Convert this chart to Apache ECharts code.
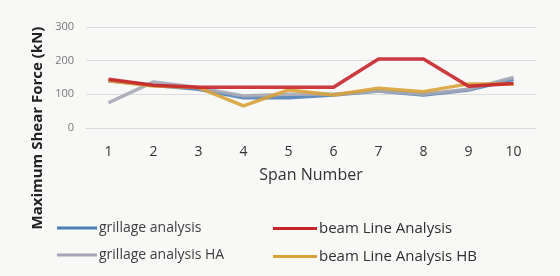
<!DOCTYPE html>
<html>
<head>
<meta charset="utf-8">
<script src="https://cdn.jsdelivr.net/npm/echarts@6/dist/echarts.min.js"></script>
<style>
  html, body { margin: 0; padding: 0; background: #f8f8f6; }
  #chart { width: 560px; height: 276px; }
</style>
</head>
<body>
<div id="chart"></div>
<script>
/* === Data === */
const spans = ['1', '2', '3', '4', '5', '6', '7', '8', '9', '10'];
const grillage = [140, 127, 115, 90, 90, 98, 110, 98, 113, 145];
const beamLine = [145, 127, 121, 121, 121, 121, 205, 205, 124, 132];
const grillageHA = [75, 137, 120, 95, 100, 100, 110, 100, 115, 150];
const beamLineHB = [140, 125, 120, 66, 113, 98, 118, 108, 131, 131];
const yTicks = { min: 0, max: 300, step: 100 };

const COLORS = {
  grillage: '#4f7fb8',
  beam: '#c8252b',
  grillageHA: '#a5a7b6',
  beamHB: '#d9a23a'
};

function lineSeries(name, data, color, z) {
  return {
    name: name,
    type: 'line',
    data: data,
    symbol: 'none',
    z: z,
    lineStyle: { color: color, width: 3.5, opacity: 0.9 },
    itemStyle: { color: color }
  };
}

/* === Chart === */
const chart = echarts.init(document.getElementById('chart'));
chart.setOption({
  backgroundColor: '#f8f8f6',
  animation: false,
  grid: { left: 86, right: 24, top: 27, bottom: 148 },
  legend: [
    {
      orient: 'vertical',
      left: 52, top: 216,
      itemWidth: 40, itemHeight: 3, itemGap: 13,
      icon: 'rect',
      textStyle: { color: '#404040', fontSize: 14, fontFamily: 'Open Sans', padding: [0, 0, 0, -3] },
      data: ['grillage analysis', 'grillage analysis HA']
    },
    {
      orient: 'vertical',
      left: 268, top: 216,
      itemWidth: 44, itemHeight: 3, itemGap: 13,
      icon: 'rect',
      textStyle: { color: '#303030', fontSize: 15, fontFamily: 'Open Sans', padding: [0, 0, 0, -3] },
      data: ['beam Line Analysis', 'beam Line Analysis HB']
    }
  ],
  xAxis: {
    type: 'category',
    data: spans,
    boundaryGap: true,
    axisLine: { show: true, lineStyle: { color: '#d9d9d9' } },
    axisTick: { show: false },
    axisLabel: { color: '#333', fontSize: 14, margin: 17, fontFamily: 'Open Sans' },
    name: 'Span Number',
    nameLocation: 'middle',
    nameGap: 39,
    nameTextStyle: { color: '#333', fontSize: 16, fontFamily: 'Open Sans' }
  },
  yAxis: {
    type: 'value',
    min: yTicks.min, max: yTicks.max, interval: yTicks.step,
    axisLine: { show: false },
    axisTick: { show: false },
    splitLine: { lineStyle: { color: '#dcdcdc', width: 1 } },
    axisLabel: { color: '#777', fontSize: 11, margin: 12, fontFamily: 'Open Sans' }
  },
  graphic: [{
    type: 'text',
    x: 38, y: 128,
    rotation: Math.PI / 2,
    style: {
      text: 'Maximum Shear Force (kN)',
      fill: '#222',
      font: 'bold 15px "Open Sans"',
      textAlign: 'center',
      textVerticalAlign: 'middle'
    }
  }],
  series: [
    lineSeries('grillage analysis', grillage, COLORS.grillage, 2),
    lineSeries('beam Line Analysis', beamLine, COLORS.beam, 5),
    lineSeries('grillage analysis HA', grillageHA, COLORS.grillageHA, 3),
    lineSeries('beam Line Analysis HB', beamLineHB, COLORS.beamHB, 4)
  ]
});
</script>
</body>
</html>
